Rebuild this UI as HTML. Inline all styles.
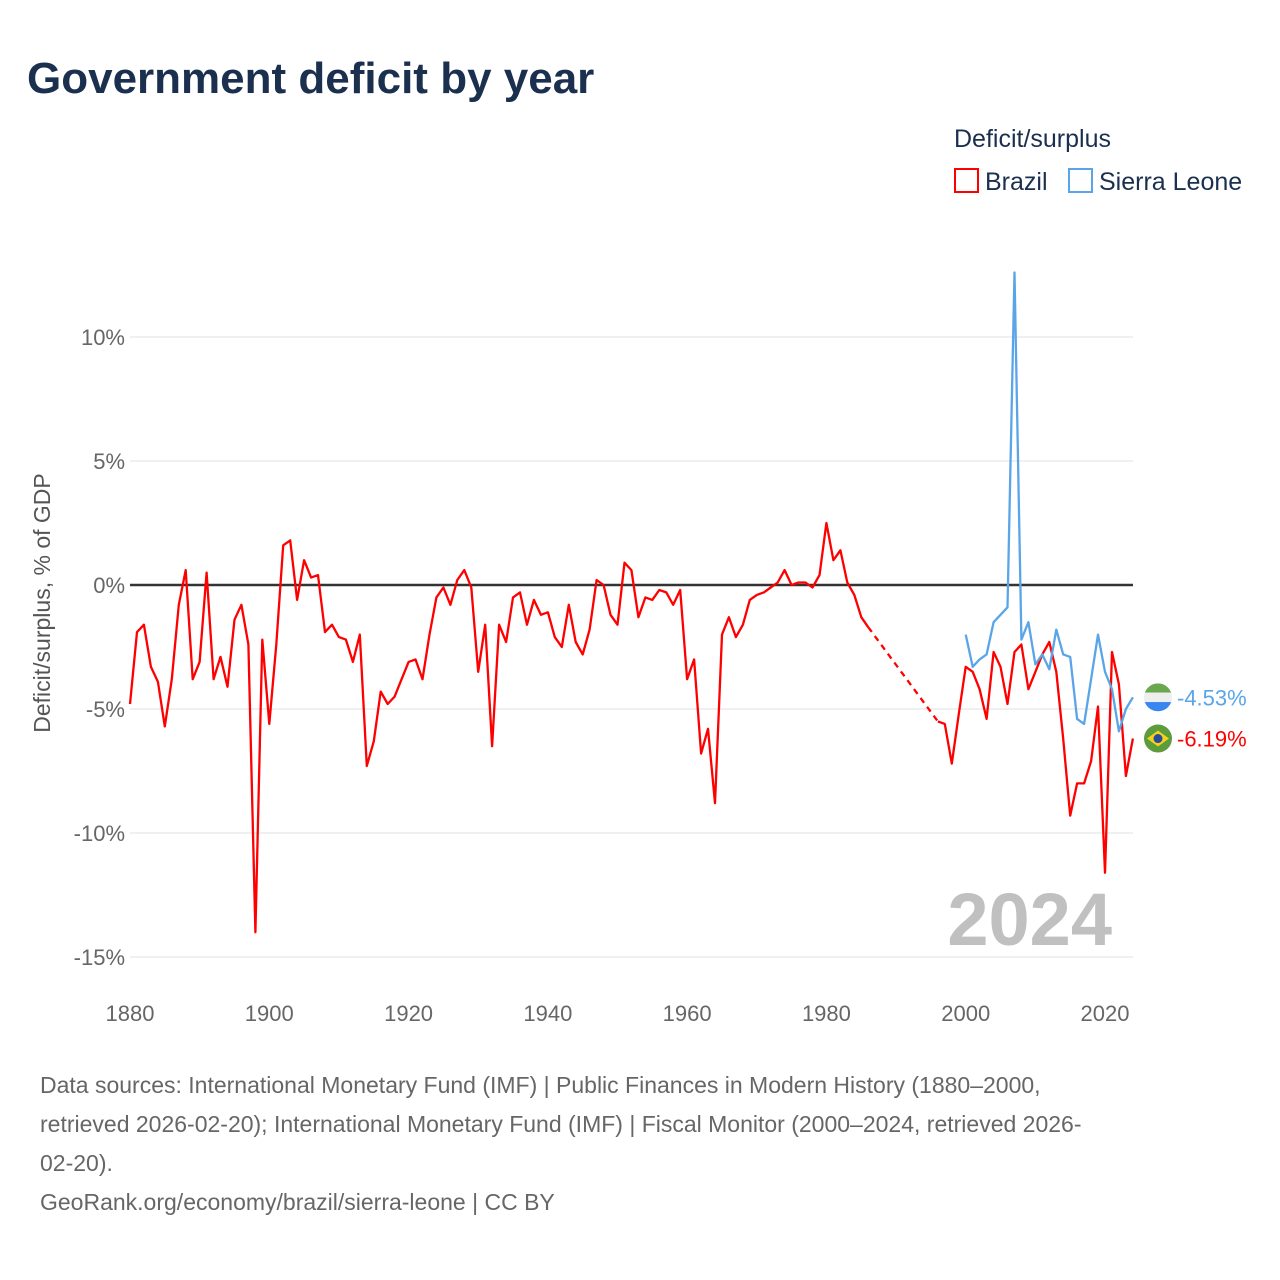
<!DOCTYPE html>
<html><head><meta charset="utf-8">
<style>
body{margin:0;background:#fff;font-family:"Liberation Sans",sans-serif;}
#wrap{position:relative;width:1280px;height:1280px;overflow:hidden;}
</style></head>
<body>
<div id="wrap">
<svg id="chart" width="1280" height="1280" xmlns="http://www.w3.org/2000/svg">
<text x="27" y="93" font-size="44" font-weight="bold" fill="#1b2f4e">Government deficit by year</text>
<text x="954" y="147" font-size="25" fill="#1b2f4e">Deficit/surplus</text>
<rect x="955" y="169" width="23" height="23" fill="none" stroke="#ff0000" stroke-width="2"/>
<text x="985" y="190" font-size="25" fill="#1b2f4e">Brazil</text>
<rect x="1069" y="169" width="23" height="23" fill="none" stroke="#5aa5e8" stroke-width="2"/>
<text x="1099" y="190" font-size="25" fill="#1b2f4e">Sierra Leone</text>
<g id="grid"></g>
<g id="xaxis"></g>
<text x="1112" y="945" font-size="74" font-weight="bold" fill="#c0c0c0" text-anchor="end">2024</text>
<g id="series"></g>
<text transform="translate(50,603) rotate(-90)" font-size="23" fill="#555" text-anchor="middle">Deficit/surplus, % of GDP</text>
<g font-size="23" fill="#666">
<text x="40" y="1093">Data sources: International Monetary Fund (IMF) | Public Finances in Modern History (1880–2000,</text>
<text x="40" y="1132">retrieved 2026-02-20); International Monetary Fund (IMF) | Fiscal Monitor (2000–2024, retrieved 2026-</text>
<text x="40" y="1171">02-20).</text>
<text x="40" y="1210">GeoRank.org/economy/brazil/sierra-leone | CC BY</text>
</g>
</svg>
</div>
<script>
const brazilYears1=[1880,1881,1882,1883,1884,1885,1886,1887,1888,1889,1890,1891,1892,1893,1894,1895,1896,1897,1898,1899,1900,1901,1902,1903,1904,1905,1906,1907,1908,1909,1910,1911,1912,1913,1914,1915,1916,1917,1918,1919,1920,1921,1922,1923,1924,1925,1926,1927,1928,1929,1930,1931,1932,1933,1934,1935,1936,1937,1938,1939,1940,1941,1942,1943,1944,1945,1946,1947,1948,1949,1950,1951,1952,1953,1954,1955,1956,1957,1958,1959,1960,1961,1962,1963,1964,1965,1966,1967,1968,1969,1970,1971,1972,1973,1974,1975,1976,1977,1978,1979,1980,1981,1982,1983,1984,1985,1986];
const brazilValues1=[-4.8,-1.9,-1.6,-3.3,-3.9,-5.7,-3.8,-0.8,0.6,-3.8,-3.1,0.5,-3.8,-2.9,-4.1,-1.4,-0.8,-2.4,-14.0,-2.2,-5.6,-2.4,1.6,1.8,-0.6,1.0,0.3,0.4,-1.9,-1.6,-2.1,-2.2,-3.1,-2.0,-7.3,-6.3,-4.3,-4.8,-4.5,-3.8,-3.1,-3.0,-3.8,-2.0,-0.5,-0.1,-0.8,0.2,0.6,-0.1,-3.5,-1.6,-6.5,-1.6,-2.3,-0.5,-0.3,-1.6,-0.6,-1.2,-1.1,-2.1,-2.5,-0.8,-2.3,-2.8,-1.8,0.2,0.0,-1.2,-1.6,0.9,0.6,-1.3,-0.5,-0.6,-0.2,-0.3,-0.8,-0.2,-3.8,-3.0,-6.8,-5.8,-8.8,-2.0,-1.3,-2.1,-1.6,-0.6,-0.4,-0.3,-0.1,0.1,0.6,0.0,0.1,0.1,-0.1,0.4,2.5,1.0,1.4,0.1,-0.4,-1.3,-1.7];
const brazilYears2=[1996,1997,1998,1999,2000,2001,2002,2003,2004,2005,2006,2007,2008,2009,2010,2011,2012,2013,2014,2015,2016,2017,2018,2019,2020,2021,2022,2023,2024];
const brazilValues2=[-5.5,-5.6,-7.2,-5.2,-3.3,-3.5,-4.2,-5.4,-2.7,-3.3,-4.8,-2.7,-2.4,-4.2,-3.5,-2.8,-2.3,-3.5,-6.2,-9.3,-8.0,-8.0,-7.1,-4.9,-11.6,-2.7,-4.0,-7.7,-6.19];
const sleYears=[2000,2001,2002,2003,2004,2005,2006,2007,2008,2009,2010,2011,2012,2013,2014,2015,2016,2017,2018,2019,2020,2021,2022,2023,2024];
const sleValues=[-2.0,-3.3,-3.0,-2.8,-1.5,-1.2,-0.9,12.6,-2.2,-1.5,-3.2,-2.8,-3.4,-1.8,-2.8,-2.9,-5.4,-5.6,-3.8,-2.0,-3.5,-4.2,-5.9,-5.0,-4.53];
const yTicks=[10,5,0,-5,-10,-15];
const xTicks=[1880,1900,1920,1940,1960,1980,2000,2020];

const NS="http://www.w3.org/2000/svg";
const X=y=>130+(y-1880)*(975/140);
const Y=v=>585-v*24.8;
function mk(tag,attrs,parent){const e=document.createElementNS(NS,tag);for(const k in attrs)e.setAttribute(k,attrs[k]);parent.appendChild(e);return e;}
const grid=document.getElementById('grid');
yTicks.forEach(t=>{
  const l=mk('line',{x1:130,x2:1133,y1:Y(t),y2:Y(t),stroke:t===0?'#333':'#e6e6e6','stroke-width':t===0?2.5:1.2},grid);
  
  
  const tx=mk('text',{x:125,y:Y(t)+8,'font-size':22,fill:'#666','text-anchor':'end'},grid);
  tx.textContent=t+'%';
  
  
});
const xa=document.getElementById('xaxis');
xTicks.forEach(t=>{
  const tx=mk('text',{x:X(t),y:1021,'font-size':22,fill:'#666','text-anchor':'middle'},xa);
  tx.textContent=t;
  
  
});
const s=document.getElementById('series');
function pts(ys,vs){return ys.map((y,i)=>X(y).toFixed(1)+','+Y(vs[i]).toFixed(1)).join(' ');}
const b1=mk('polyline',{points:pts(brazilYears1,brazilValues1),fill:'none',stroke:'#ff0000','stroke-width':2.3,'stroke-linejoin':'round'},s);


const bl=brazilYears1.length-1;
const gap=mk('line',{x1:X(brazilYears1[bl]),y1:Y(brazilValues1[bl]),x2:X(brazilYears2[0]),y2:Y(brazilValues2[0]),stroke:'#ff0000','stroke-width':2.3,'stroke-dasharray':'6,5'},s);


const b2=mk('polyline',{points:pts(brazilYears2,brazilValues2),fill:'none',stroke:'#ff0000','stroke-width':2.3,'stroke-linejoin':'round'},s);


const sl=mk('polyline',{points:pts(sleYears,sleValues),fill:'none',stroke:'#5aa5e8','stroke-width':2.3,'stroke-linejoin':'round'},s);



// end labels with flags
const slv=sleValues[sleValues.length-1], brv=brazilValues2[brazilValues2.length-1];
const fy1=Y(slv), fy2=Y(brv);
const g1=mk('g',{},s);


mk('clipPath',{id:'c1'},g1).appendChild(document.createElementNS(NS,'circle'));
const c1=g1.querySelector('circle');c1.setAttribute('cx',1158);c1.setAttribute('cy',fy1);c1.setAttribute('r',14);
mk('rect',{x:1144,y:fy1-14,width:28,height:9.3,fill:'#6aa84f','clip-path':'url(#c1)'},g1);
mk('rect',{x:1144,y:fy1-4.7,width:28,height:9.4,fill:'#eeeeee','clip-path':'url(#c1)'},g1);
mk('rect',{x:1144,y:fy1+4.7,width:28,height:9.3,fill:'#3a86f0','clip-path':'url(#c1)'},g1);
const t1=mk('text',{x:1177,y:fy1+8,'font-size':22,fill:'#5aa5e8'},s);
t1.textContent=slv.toFixed(2)+'%';


const g2=mk('g',{},s);


mk('circle',{cx:1158,cy:fy2,r:14,fill:'#5c9c3c'},g2);
mk('polygon',{points:`1147,${fy2} 1158,${fy2-8} 1169,${fy2} 1158,${fy2+8}`,fill:'#f2d21b'},g2);
mk('circle',{cx:1158,cy:fy2,r:4.5,fill:'#2a4a9a'},g2);
const t2=mk('text',{x:1177,y:fy2+8,'font-size':22,fill:'#ff0000'},s);
t2.textContent=brv.toFixed(2)+'%';


</script>
</body></html>
